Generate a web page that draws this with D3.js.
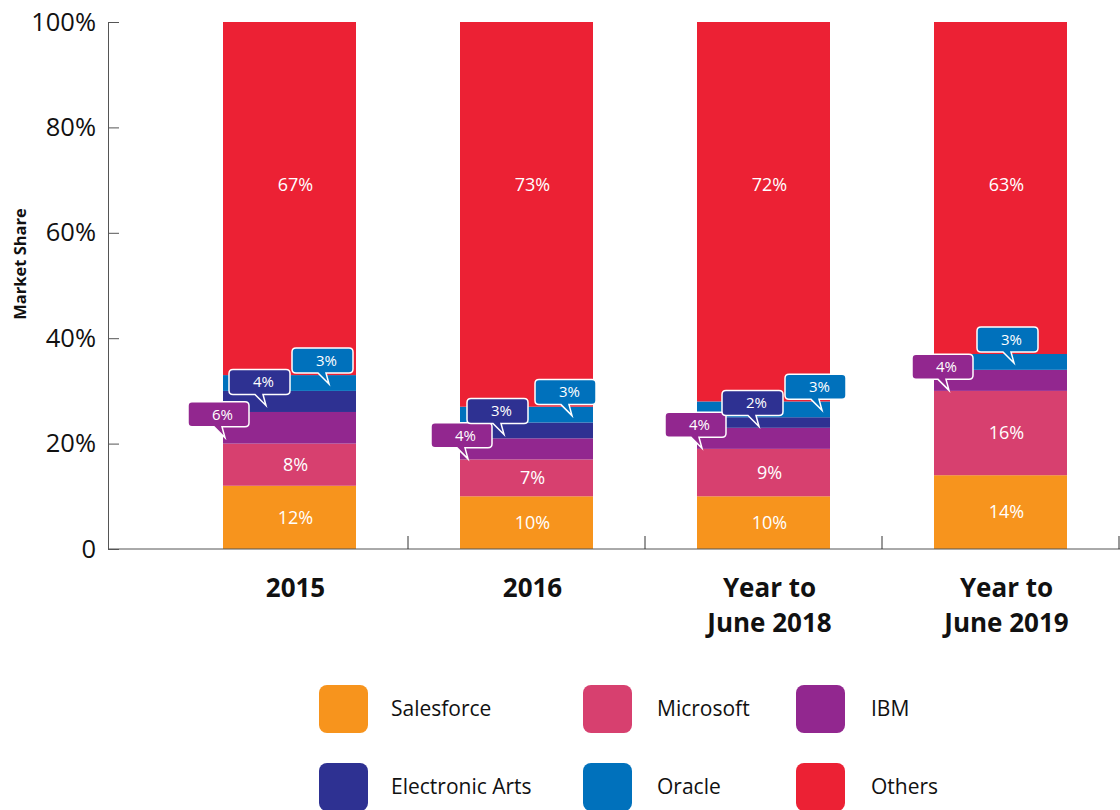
<!DOCTYPE html>
<html>
<head>
<meta charset="utf-8">
<script src="https://cdn.jsdelivr.net/npm/d3@7"></script>
<style>
  body { margin: 0; background: #fff; }
  svg { font-family: "Open Sans", sans-serif; }
</style>
</head>
<body>
<div id="chart"></div>
<script>
// chart data
var years = ["2015", "2016", "Year to June 2018", "Year to June 2019"];
var yearLines = [["2015"], ["2016"], ["Year to", "June 2018"], ["Year to", "June 2019"]];
var series = ["Salesforce", "Microsoft", "IBM", "Electronic Arts", "Oracle", "Others"];
var salesforce = [12, 10, 10, 14];
var microsoft = [8, 7, 9, 16];
var ibm = [6, 4, 4, 4];
var electronicArts = [4, 3, 2, 0];
var oracle = [3, 3, 3, 3];
var others = [67, 73, 72, 63];
var yTicks = [0, 20, 40, 60, 80, 100];
var yTickLabels = ["0", "20%", "40%", "60%", "80%", "100%"];

var colors = {
  "Salesforce": "#F7941D",
  "Microsoft": "#D7406F",
  "IBM": "#92278F",
  "Electronic Arts": "#2E3192",
  "Oracle": "#0071BC",
  "Others": "#EC2134"
};

// which segments get a label inside the bar, which get a speech bubble
var inBar = ["Salesforce", "Microsoft", "Others"];
var bubbled = ["IBM", "Electronic Arts", "Oracle"];

// bubble layout (offset of bubble box from bar left, per year) and tail drop
var bubbleDx = {
  "IBM": [-35, -29, -32, -22],
  "Electronic Arts": [6, 7, 25, 0],
  "Oracle": [69, 75, 88, 43]
};
var bubbleDy = { "IBM": 10, "Electronic Arts": 4, "Oracle": 1 };
var othersLabelAt = 69.2;

var table = years.map(function(y, i) {
  return {
    year: y, idx: i,
    "Salesforce": salesforce[i], "Microsoft": microsoft[i], "IBM": ibm[i],
    "Electronic Arts": electronicArts[i], "Oracle": oracle[i], "Others": others[i]
  };
});

var width = 1120, height = 810;

var svg = d3.select("#chart").append("svg")
  .attr("width", width)
  .attr("height", height);

var y = d3.scaleLinear().domain([0, 100]).range([549, 22]);
var x = d3.scaleBand().domain(years).range([171, 1119]).padding(0);
var barW = 133;
function barLeft(yr) { return x(yr) + (x.bandwidth() - barW) / 2; }

var stacked = d3.stack().keys(series)(table);

// bars
var layers = svg.append("g").selectAll("g")
  .data(stacked)
  .enter().append("g")
  .attr("fill", function(d) { return colors[d.key]; });

layers.selectAll("rect")
  .data(function(d) { return d; })
  .enter().append("rect")
  .attr("x", function(d) { return barLeft(d.data.year); })
  .attr("width", barW)
  .attr("y", function(d) { return y(d[1]); })
  .attr("height", function(d) { return y(d[0]) - y(d[1]); });

// labels inside bars
stacked.filter(function(s) { return inBar.indexOf(s.key) >= 0; }).forEach(function(s) {
  svg.append("g").selectAll("text")
    .data(s)
    .enter().append("text")
    .attr("x", function(d) { return x(d.data.year) + x.bandwidth() / 2 + 6; })
    .attr("y", function(d) {
      var mid = s.key == "Others" ? othersLabelAt : (d[0] + d[1]) / 2;
      return y(mid);
    })
    .attr("dy", "0.35em")
    .attr("text-anchor", "middle")
    .attr("fill", "#fff")
    .attr("font-size", 18)
    .text(function(d) { return (d[1] - d[0]) + "%"; });
});

// speech bubbles
var bw = 61, bh = 25, br = 4;
function bubblePath(bx, by) {
  var r = br, b = by + bh;
  return "M" + (bx + r) + "," + by +
    "H" + (bx + bw - r) + "Q" + (bx + bw) + "," + by + " " + (bx + bw) + "," + (by + r) +
    "V" + (b - r) + "Q" + (bx + bw) + "," + b + " " + (bx + bw - r) + "," + b +
    "H" + (bx + 34) + "L" + (bx + 37) + "," + (b + 11) + "L" + (bx + 26) + "," + b +
    "H" + (bx + r) + "Q" + bx + "," + b + " " + bx + "," + (b - r) +
    "V" + (by + r) + "Q" + bx + "," + by + " " + (bx + r) + "," + by + "Z";
}

stacked.filter(function(s) { return bubbled.indexOf(s.key) >= 0; }).forEach(function(s) {
  var g = svg.append("g");
  s.forEach(function(d) {
    var v = d[1] - d[0];
    if (v <= 0) return;
    var i = d.data.idx;
    var tipY = y((d[0] + d[1]) / 2) + bubbleDy[s.key];
    var bx = barLeft(d.data.year) + bubbleDx[s.key][i];
    var by = tipY - 11 - bh;
    g.append("path")
      .attr("d", bubblePath(bx, by))
      .attr("fill", colors[s.key])
      .attr("stroke", "#fff")
      .attr("stroke-width", 1.5);
    g.append("text")
      .attr("x", bx + bw / 2 + 4)
      .attr("y", by + bh / 2)
      .attr("dy", "0.35em")
      .attr("text-anchor", "middle")
      .attr("fill", "#fff")
      .attr("font-size", 15)
      .text(v + "%");
  });
});

// y axis
var yAxis = d3.axisLeft(y)
  .tickValues(yTicks)
  .tickFormat(function(d, i) { return yTickLabels[i]; })
  .tickSizeInner(-11)
  .tickSizeOuter(0)
  .tickPadding(12);

var yg = svg.append("g")
  .attr("transform", "translate(108,0)")
  .call(yAxis);
yg.select(".domain").attr("stroke", "#555");
yg.selectAll(".tick line").attr("stroke", "#555");
yg.selectAll(".tick text")
  .attr("font-size", 25.5)
  .attr("fill", "#111")
  .attr("font-family", "Open Sans, sans-serif");

svg.append("text")
  .attr("transform", "translate(26,264) rotate(-90)")
  .attr("text-anchor", "middle")
  .attr("font-size", 16.5)
  .attr("font-weight", 700)
  .attr("fill", "#111")
  .text("Market Share");

// x axis
var xg = svg.append("g");
xg.append("line")
  .attr("x1", 108).attr("x2", 1120)
  .attr("y1", y(0)).attr("y2", y(0))
  .attr("stroke", "#555");
xg.selectAll(".sep")
  .data(years)
  .enter().append("line")
  .attr("x1", function(d) { return x(d) + x.step(); })
  .attr("x2", function(d) { return x(d) + x.step(); })
  .attr("y1", y(0))
  .attr("y2", y(0) - 13)
  .attr("stroke", "#333");

var cat = xg.selectAll(".cat")
  .data(years)
  .enter().append("text")
  .attr("text-anchor", "middle")
  .attr("font-size", 26)
  .attr("font-weight", 700)
  .attr("fill", "#111");
cat.each(function(d, i) {
  var t = d3.select(this);
  yearLines[i].forEach(function(line, j) {
    t.append("tspan")
      .attr("x", x(d) + x.bandwidth() / 2 + 6)
      .attr("y", 597 + j * 35)
      .text(line);
  });
});

// legend
var legCols = [319, 583, 796];
var legText = [391, 657, 871];
var legRows = [685, 763];
var leg = svg.append("g").selectAll("g")
  .data(series)
  .enter().append("g")
  .attr("transform", function(d, i) {
    return "translate(" + legCols[i % 3] + "," + legRows[Math.floor(i / 3)] + ")";
  });
leg.append("rect")
  .attr("width", 49)
  .attr("height", 48)
  .attr("rx", 8)
  .attr("fill", function(d) { return colors[d]; });
leg.append("text")
  .attr("x", function(d, i) { return legText[i % 3] - legCols[i % 3]; })
  .attr("y", 24)
  .attr("dy", "0.35em")
  .attr("font-size", 21)
  .attr("fill", "#111")
  .text(function(d) { return d; });
</script>
</body>
</html>
